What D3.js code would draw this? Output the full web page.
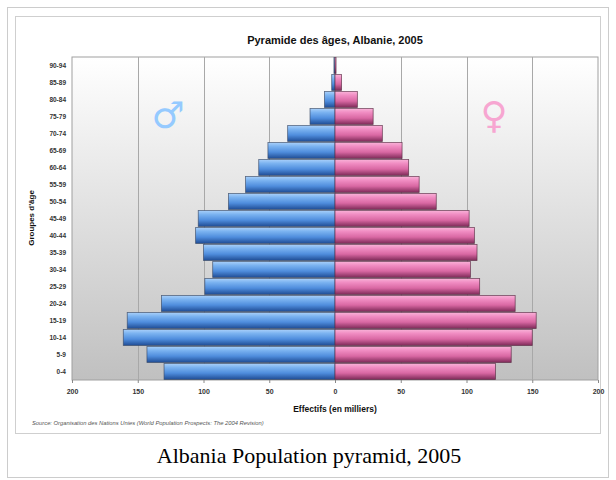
<!DOCTYPE html>
<html><head><meta charset="utf-8">
<script src="https://cdn.jsdelivr.net/npm/d3@7"></script>
<style>
html,body{margin:0;padding:0;background:#fff;}
svg{display:block;}
</style></head>
<body>
<script>
const ageGroups = ["0-4","5-9","10-14","15-19","20-24","25-29","30-34","35-39","40-44","45-49","50-54","55-59","60-64","65-69","70-74","75-79","80-84","85-89","90-94"];
const maleValues = [130, 143, 161, 158, 132, 99, 93, 100, 106, 104, 81, 68, 58, 51, 36, 19, 8, 2.5, 0.8];
const femaleValues = [122, 134, 150, 153, 137, 110, 103, 108, 106, 102, 77, 64, 56, 51, 36, 29, 17, 5, 0.8];
const xTicks = [-200, -150, -100, -50, 0, 50, 100, 150, 200];
const titleText = "Pyramide des âges, Albanie, 2005";
const xTitle = "Effectifs (en milliers)";
const yTitle = "Groupes d'âge";
const sourceText = "Source: Organisation des Nations Unies (World Population Prospects: The 2004 Revision)";
const captionText = "Albania Population pyramid, 2005";

(function () {
const W = 616, H = 480;
const svg = d3.select("body").append("svg").attr("width", W).attr("height", H);
const defs = svg.append("defs");

function vgrad(id, stops) {
  const g = defs.append("linearGradient").attr("id", id).attr("x1", 0).attr("y1", 0).attr("x2", 0).attr("y2", 1);
  stops.forEach(s => g.append("stop").attr("offset", s[0]).attr("stop-color", s[1]));
}
vgrad("bg", [[0, "#ffffff"], [1, "#c0c0c0"]]);
vgrad("blue", [[0, "#a9d0fa"], [0.25, "#7ab2f0"], [0.6, "#4f8ddd"], [1, "#1f4c94"]]);
vgrad("pink", [[0, "#f9b2d8"], [0.25, "#f08cc2"], [0.6, "#d968a3"], [1, "#7e2a58"]]);

// outer frame + inner frame
svg.append("rect").attr("x", 7.5).attr("y", 7.5).attr("width", 601).attr("height", 470)
  .attr("fill", "#ffffff").attr("stroke", "#cccccc");
svg.append("rect").attr("x", 15.5).attr("y", 16.5).attr("width", 585).attr("height", 417)
  .attr("fill", "#ffffff").attr("stroke", "#cfcfcf");

const pL = 72, pR = 598, pT = 57, pB = 380;
const x = d3.scaleLinear().domain([-200, 200]).range([pL, pR]);
const y = d3.scaleBand().domain(ageGroups).range([pB, pT]).paddingInner(0.06).paddingOuter(0.03);

// plot background
svg.append("rect").attr("x", pL).attr("y", pT).attr("width", pR - pL).attr("height", pB - pT)
  .attr("fill", "url(#bg)").attr("stroke", "#a0a0a0");

// gridlines
svg.append("g").selectAll("line").data(xTicks.filter(t => t !== 0 && Math.abs(t) !== 200)).join("line")
  .attr("x1", d => Math.round(x(d)) + 0.5).attr("x2", d => Math.round(x(d)) + 0.5)
  .attr("y1", pT).attr("y2", pB).attr("stroke", "#a8a8a8").attr("stroke-width", 1);

// symbols
svg.append("text").attr("x", 168).attr("y", 128).attr("text-anchor", "middle")
  .attr("font-family", "DejaVu Sans").attr("font-size", 37).attr("fill", "#95caff").text("♂");
svg.append("text").attr("x", 494).attr("y", 128).attr("text-anchor", "middle")
  .attr("font-family", "DejaVu Sans").attr("font-size", 37).attr("fill", "#f7a6d1").text("♀");

// bars
const bars = svg.append("g");
bars.selectAll("rect.m").data(ageGroups).join("rect").attr("class", "m")
  .attr("x", (d, i) => x(-maleValues[i])).attr("width", (d, i) => x(0) - x(-maleValues[i]))
  .attr("y", d => y(d)).attr("height", y.bandwidth())
  .attr("fill", "url(#blue)").attr("stroke", "#3a4a66").attr("stroke-width", 0.8).attr("stroke-opacity", 0.8);
bars.selectAll("rect.f").data(ageGroups).join("rect").attr("class", "f")
  .attr("x", x(0)).attr("width", (d, i) => x(femaleValues[i]) - x(0))
  .attr("y", d => y(d)).attr("height", y.bandwidth())
  .attr("fill", "url(#pink)").attr("stroke", "#5a2a44").attr("stroke-width", 0.8).attr("stroke-opacity", 0.8);

// x axis
const xAxis = d3.axisBottom(x).tickValues(xTicks).tickFormat(d => Math.abs(d)).tickSize(3).tickPadding(6);
const gx = svg.append("g").attr("transform", `translate(0,${pB})`).call(xAxis);
gx.select(".domain").remove();
gx.selectAll("line").attr("stroke", "#888");
gx.selectAll("text").attr("font-family", "Liberation Sans, Arial, sans-serif").attr("font-size", 7)
  .attr("font-weight", "bold").attr("fill", "#333");

// y axis
const yAxis = d3.axisLeft(y).tickSize(0).tickPadding(6);
const gy = svg.append("g").attr("transform", `translate(${pL},0)`).call(yAxis);
gy.select(".domain").remove();
gy.selectAll("text").attr("font-family", "Liberation Sans, Arial, sans-serif").attr("font-size", 6.5)
  .attr("font-weight", "bold").attr("fill", "#333");

// titles
svg.append("text").attr("x", 335).attr("y", 44).attr("text-anchor", "middle")
  .attr("font-family", "Liberation Sans, Arial, sans-serif").attr("font-size", 11).attr("font-weight", "bold")
  .attr("fill", "#111").text(titleText);
svg.append("text").attr("x", 335).attr("y", 412).attr("text-anchor", "middle")
  .attr("font-family", "Liberation Sans, Arial, sans-serif").attr("font-size", 8.5).attr("font-weight", "bold")
  .attr("fill", "#111").text(xTitle);
svg.append("text").attr("transform", "translate(34,218) rotate(-90)").attr("text-anchor", "middle")
  .attr("font-family", "Liberation Sans, Arial, sans-serif").attr("font-size", 8).attr("font-weight", "bold")
  .attr("fill", "#111").text(yTitle);
svg.append("text").attr("x", 32).attr("y", 425)
  .attr("font-family", "Liberation Sans, Arial, sans-serif").attr("font-size", 5.8).attr("font-style", "italic")
  .attr("fill", "#555").text(sourceText);

// caption
svg.append("text").attr("x", 309).attr("y", 463).attr("text-anchor", "middle")
  .attr("font-family", "Liberation Serif, Times New Roman, serif").attr("font-size", 22)
  .attr("fill", "#000").text(captionText);
})();
</script>
</body></html>
